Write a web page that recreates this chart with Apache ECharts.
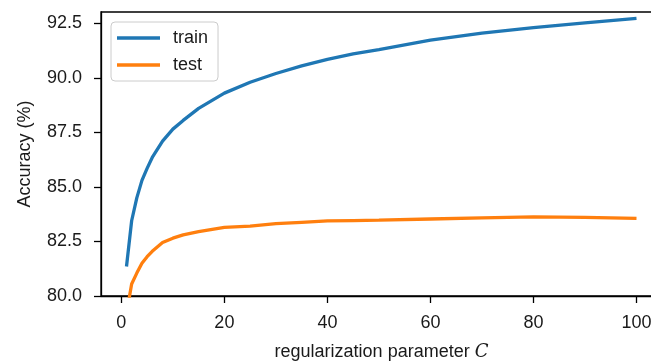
<!DOCTYPE html>
<html>
<head>
<meta charset="utf-8">
<script src="https://cdn.jsdelivr.net/npm/echarts@6/dist/echarts.min.js"></script>
<style>html,body{margin:0;padding:0;background:#fff;}#c{width:651px;height:363px;}</style>
</head>
<body>
<div id="c"></div>
<script>
const C = [1,2,3,4,5,6,8,10,12,15,20,25,30,35,40,45,50,60,70,80,90,100];
const train = [81.35,83.45,84.5,85.3,85.85,86.35,87.1,87.65,88.05,88.6,89.3,89.8,90.2,90.55,90.85,91.1,91.3,91.73,92.05,92.3,92.52,92.73];
const test = [79.2,80.55,81.05,81.5,81.8,82.05,82.45,82.65,82.8,82.95,83.15,83.2,83.32,83.38,83.44,83.46,83.48,83.53,83.58,83.63,83.6,83.56];
const xTicks = [0,20,40,60,80,100];
const yTicks = [80,82.5,85,87.5,90,92.5];
const seriesNames = ['train','test'];
const colors = ['#1f77b4','#ff7f0e'];

const FONT = 'Liberation Sans, Arial, sans-serif';
const chart = echarts.init(document.getElementById('c'), null, {renderer:'canvas'});
chart.setOption({
  animation:false,
  backgroundColor:'#fff',
  grid:{left:101, top:12, width:561, height:284, show:true, borderColor:'#000', borderWidth:1.3, backgroundColor:'transparent', containLabel:false, outerBoundsMode:'none'},
  legend:{
    left:111, top:22, orient:'vertical',
    data:seriesNames.map(n=>({name:n, icon:'rect'})),
    itemWidth:43, itemHeight:3.5, itemGap:9,
    padding:[7,10,7,6],
    backgroundColor:'rgba(255,255,255,0.8)', borderColor:'#cccccc', borderWidth:1, borderRadius:4,
    textStyle:{fontFamily:FONT, fontSize:18, color:'#1a1a1a', lineHeight:18, padding:[0,0,0,8]}
  },
  xAxis:{
    type:'value', min:-3.95, max:104.95,
    axisLine:{show:true, onZero:false, lineStyle:{color:'#000', width:1.3}},
    axisTick:{show:true, length:7, lineStyle:{color:'#000', width:1.3}, customValues:xTicks},
    axisLabel:{fontFamily:FONT, fontSize:18, color:'#1a1a1a', margin:18, customValues:xTicks, formatter:v=>String(v)},
    splitLine:{show:false},
    name:'regularization parameter {c|C}',
    nameLocation:'middle', nameGap:47,
    nameTextStyle:{fontFamily:FONT, fontSize:18, color:'#1a1a1a',
      rich:{c:{fontFamily:'DejaVu Serif, serif', fontStyle:'italic', fontSize:18, color:'#1a1a1a'}}}
  },
  yAxis:{
    type:'value', min:80, max:93.02,
    axisLine:{show:true, onZero:false, lineStyle:{color:'#000', width:1.3}},
    axisTick:{show:true, length:7, lineStyle:{color:'#000', width:1.3}, customValues:yTicks},
    axisLabel:{fontFamily:FONT, fontSize:18, color:'#1a1a1a', margin:19, customValues:yTicks, formatter:v=>v.toFixed(1)},
    splitLine:{show:false},
    name:'Accuracy (%)', nameLocation:'middle', nameGap:67, nameRotate:90,
    nameTextStyle:{fontFamily:FONT, fontSize:18, color:'#1a1a1a'}
  },
  series:[
    {name:seriesNames[0], type:'line', data:C.map((c,i)=>[c,train[i]]), showSymbol:false, clip:true,
     lineStyle:{color:colors[0], width:3.3}, itemStyle:{color:colors[0]}},
    {name:seriesNames[1], type:'line', data:C.map((c,i)=>[c,test[i]]), showSymbol:false, clip:true,
     lineStyle:{color:colors[1], width:3.3}, itemStyle:{color:colors[1]}}
  ]
});
</script>
</body>
</html>
